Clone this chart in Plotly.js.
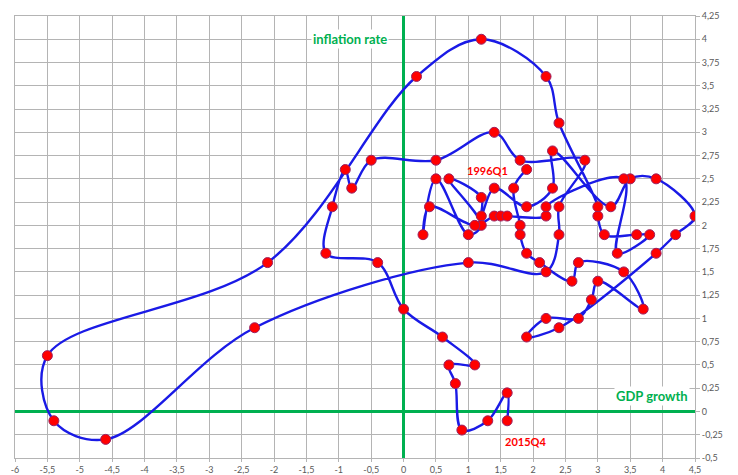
<!DOCTYPE html>
<html><head><meta charset="utf-8">
<script src="https://cdn.plot.ly/plotly-3.0.1.min.js"></script>
<style>html,body{margin:0;padding:0;background:#fff}</style>
</head><body><div id="chart" style="width:738px;height:475px"></div>
<script>
// GDP growth (x) and inflation rate (y), 1996Q1 ... 2015Q4
const gdpGrowth = [
  1.9,1.7,1.8,1.8,1.9,2.1,2.6,2.7,3.4,3.7,3.0,2.9,2.7,2.2,1.9,2.4,3.9,4.2,4.5,3.9,3.5,
  3.2,2.3,2.3,1.9,1.4,1.2,1.2,0.7,1.2,1.0,0.5,0.3,0.4,1.1,1.4,1.5,1.6,2.2,2.2,3.4,3.3,3.8,3.6,3.1,3.0,
  3.0,2.4,2.2,1.2,0.2,-2.1,-5.5,-5.4,-4.6,-2.3,
  1.0,2.2,2.4,2.4, 2.8,1.8,1.4,0.5, -0.5,-0.8,-0.9,-1.1, -1.2,-0.4,0.0,0.6, 1.1,0.7,0.8,0.9, 1.3,1.6,1.6
];
const inflationRate = [
  2.6,2.4,2.0,1.9,1.7,1.6,1.4,1.6,1.5,1.1,1.4,1.2,1.0,1.0,0.8,0.9,1.7,1.9,2.1,2.5,2.5,
  2.2,2.8,2.4,2.2,2.4,2.1,2.3,2.5,2.0,1.9,2.5,1.9,2.2,2.0,2.1,2.1,2.1,2.1,2.2,2.5,1.7,1.9,1.9,1.9,2.1,
  2.2,3.1,3.6,4.0,3.6,1.6,0.6,-0.1,-0.3,0.9,
  1.6,1.5,1.9,2.2, 2.7,2.7,3.0,2.7, 2.7,2.4,2.6,2.2, 1.7,1.6,1.1,0.8, 0.5,0.5,0.3,-0.2, -0.1,0.2,-0.1
];
const xTickVals = [-6,-5.5,-5,-4.5,-4,-3.5,-3,-2.5,-2,-1.5,-1,-0.5,0,0.5,1,1.5,2,2.5,3,3.5,4,4.5];
const xTickText = ['-6','-5,5','-5','-4,5','-4','-3,5','-3','-2,5','-2','-1,5','-1','-0,5','0','0,5','1','1,5','2','2,5','3','3,5','4','4,5'];
const yTickVals = [-0.5,-0.25,0,0.25,0.5,0.75,1,1.25,1.5,1.75,2,2.25,2.5,2.75,3,3.25,3.5,3.75,4,4.25];
const yTickText = ['-0,5','-0,25','0','0,25','0,5','0,75','1','1,25','1,5','1,75','2','2,25','2,5','2,75','3','3,25','3,5','3,75','4','4,25'];
const axisLabels = ['inflation rate','GDP growth'];
const pointLabels = ['1996Q1','2015Q4'];

const green = '#00b050';
const trace = {
  x: gdpGrowth, y: inflationRate, type: 'scatter', mode: 'lines+markers',
  line: {color: '#1a1ae6', width: 2.4, shape: 'spline', smoothing: 1},
  marker: {color: '#ff0000', size: 10, line: {color: '#9a2060', width: 1}},
  hoverinfo: 'x+y'
};
const tickFont = {family: 'Lato, Calibri, sans-serif', size: 9, color: '#595959'};
const layout = {
  width: 738, height: 475,
  margin: {l: 15, r: 43, t: 16, b: 17},
  paper_bgcolor: '#fff', plot_bgcolor: '#fff',
  showlegend: false,
  xaxis: {
    range: [-6, 4.5], tickvals: xTickVals, ticktext: xTickText, tickfont: tickFont,
    showgrid: true, gridcolor: '#b4b4b4', gridwidth: 1,
    zeroline: true, zerolinecolor: green, zerolinewidth: 2.5,
    showline: true, linecolor: '#b4b4b4', mirror: true,
    ticks: 'outside', ticklen: 3, tickcolor: '#b4b4b4', fixedrange: true
  },
  yaxis: {
    range: [-0.5, 4.25], side: 'right', tickvals: yTickVals, ticktext: yTickText, tickfont: tickFont,
    showgrid: true, gridcolor: '#b4b4b4', gridwidth: 1,
    zeroline: true, zerolinecolor: green, zerolinewidth: 2.5,
    showline: true, linecolor: '#b4b4b4', mirror: true,
    ticks: 'outside', ticklen: 4, tickcolor: '#b4b4b4', fixedrange: true
  },
  annotations: [
    {x: -0.82, y: 4.0, xref: 'x', yref: 'y', text: axisLabels[0], showarrow: false,
     bgcolor: '#ffffff', font: {family: 'Lato, sans-serif', size: 13, color: green, weight: 'bold'}},
    {x: 3.83, y: 0.165, xref: 'x', yref: 'y', text: axisLabels[1], showarrow: false,
     bgcolor: '#ffffff', font: {family: 'Lato, sans-serif', size: 13, color: green, weight: 'bold'}},
    {x: 1.30, y: 2.59, xref: 'x', yref: 'y', text: pointLabels[0], showarrow: false,
     font: {family: 'Lato, sans-serif', size: 11, color: '#ff0000', weight: 'bold'}},
    {x: 1.88, y: -0.325, xref: 'x', yref: 'y', text: pointLabels[1], showarrow: false,
     font: {family: 'Lato, sans-serif', size: 11, color: '#ff0000', weight: 'bold'}}
  ]
};
Plotly.newPlot('chart', [trace], layout, {displayModeBar: false, staticPlot: true});
</script></body></html>
